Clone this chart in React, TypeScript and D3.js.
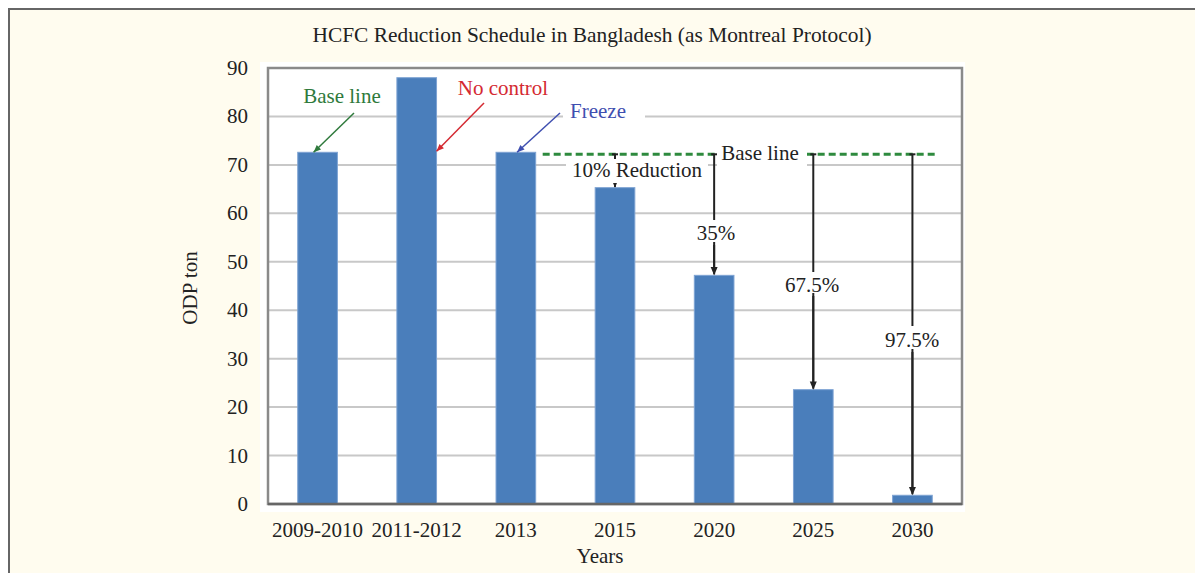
import React from "react";
import * as d3 from "d3";

const categories = ["2009-2010", "2011-2012", "2013", "2015", "2020", "2025", "2030"];
const values = [72.6, 88, 72.6, 65.3, 47.2, 23.6, 1.8];
const yTicks = [0, 10, 20, 30, 40, 50, 60, 70, 80, 90];
const baselineValue = 72.6;
const reductionLabels = ["10% Reduction", "35%", "67.5%", "97.5%"];
const reductionCats = ["2015", "2020", "2025", "2030"];

const W = 1195;
const H = 565;
const SERIF = "'Liberation Serif', 'Times New Roman', serif";
const FS = 21;

export default function App() {
  const left = 268, right = 962, top = 68, bottom = 504;
  const x = d3.scaleBand<string>().domain(categories).range([left, right]).paddingInner(0.6).paddingOuter(0.3);
  const y = d3.scaleLinear().domain([0, 90]).range([bottom, top]);
  const cx = (c: string) => (x(c) as number) + x.bandwidth() / 2;
  const yb = y(baselineValue) + 2;

  const redBoxes = [
    { box: [566, 159, 708, 183], tx: 637, ty: 177 },
    { box: [690, 220, 782, 245], tx: 716, ty: 240 },
    { box: [750, 272, 875, 296], tx: 812, ty: 292 },
    { box: [833, 326, 960, 352], tx: 912, ty: 347 },
  ];

  const arrowHead = (x2: number, y2: number, x1: number, y1: number, color: string, size = 8) => {
    const ang = Math.atan2(y2 - y1, x2 - x1);
    const a1 = ang + Math.PI - 0.4, a2 = ang + Math.PI + 0.4;
    const p = [
      [x2, y2],
      [x2 + size * Math.cos(a1), y2 + size * Math.sin(a1)],
      [x2 + size * Math.cos(a2), y2 + size * Math.sin(a2)],
    ];
    return <polygon points={p.map((q) => q.join(",")).join(" ")} fill={color} />;
  };

  // target: offset from bar center (fraction of bandwidth) and value
  const callouts = [
    { text: "Base line", color: "#2f7a3c", tx: 342, ty: 103, from: [354, 113], cat: "2009-2010", dx: -0.1, v: 72.6 },
    { text: "No control", color: "#d42a32", tx: 503, ty: 95, from: [484, 103], cat: "2011-2012", dx: 0.5, v: 72.8 },
    { text: "Freeze", color: "#3f4fb0", tx: 598, ty: 118, from: [560, 113], cat: "2013", dx: 0.03, v: 72.6 },
  ];

  return (
    <svg width={W} height={H} style={{ display: "block" }}>
      <g transform="translate(-8,-8)">
        <rect x={9} y={9} width={1400} height={800} fill="#fffcef" stroke="#666" strokeWidth={2} />
        <text x={592} y={42} textAnchor="middle" fontFamily={SERIF} fontSize={21.4} fill="#222">
          HCFC Reduction Schedule in Bangladesh (as Montreal Protocol)
        </text>
        <rect x={260} y={62} width={705} height={450} fill="#fff" />
        {yTicks.map((t) => (
          <g key={t}>
            <line x1={left} x2={right} y1={y(t)} y2={y(t)} stroke="#c8c8c8" strokeWidth={2} />
            <text x={248} y={y(t) + 7} textAnchor="end" fontFamily={SERIF} fontSize={FS} fill="#222">
              {t}
            </text>
          </g>
        ))}
        <rect x={left} y={top} width={right - left} height={bottom - top} fill="none" stroke="#8a8a8a" strokeWidth={2.5} />
        {categories.map((c, i) => (
          <g key={c}>
            <rect x={x(c)} y={y(values[i])} width={x.bandwidth()} height={bottom - y(values[i])} fill="#4a7ebb" stroke="#7ea3d3" strokeWidth={1} />
            <text x={cx(c)} y={537} textAnchor="middle" fontFamily={SERIF} fontSize={FS} fill="#222">
              {c}
            </text>
          </g>
        ))}
        <line x1={left} x2={right} y1={bottom} y2={bottom} stroke="#666" strokeWidth={2.5} />
        <text x={600} y={563} textAnchor="middle" fontFamily={SERIF} fontSize={FS} fill="#222">Years</text>
        <text transform={`translate(197,288) rotate(-90)`} textAnchor="middle" fontFamily={SERIF} fontSize={FS} fill="#222">
          ODP ton
        </text>

        {callouts.map((c) => {
          const x2 = cx(c.cat) + c.dx * x.bandwidth(), y2 = y(c.v);
          return (
            <g key={c.text}>
              {c.text === "Freeze" && <rect x={563} y={98} width={82} height={26} fill="#fff" />}
              <line x1={c.from[0]} y1={c.from[1]} x2={x2} y2={y2} stroke={c.color} strokeWidth={1.5} />
              {arrowHead(x2, y2, c.from[0], c.from[1], c.color)}
              <text x={c.tx} y={c.ty} textAnchor="middle" fontFamily={SERIF} fontSize={FS} fill={c.color}>
                {c.text}
              </text>
            </g>
          );
        })}

        <line x1={(x("2013") as number) + x.bandwidth() + 7} x2={938} y1={yb} y2={yb} stroke="#2e8a3e" strokeWidth={3} strokeDasharray="7,4" />

        {reductionCats.map((c) => {
          const vx = cx(c);
          const vy = y(values[categories.indexOf(c)]);
          return (
            <g key={c}>
              <line x1={vx} x2={vx} y1={yb} y2={vy - 1} stroke="#222" strokeWidth={2} />
              <line x1={vx - 3} x2={vx + 3} y1={yb} y2={yb} stroke="#222" strokeWidth={2} />
              {arrowHead(vx, vy, vx, yb, "#222", 9)}
            </g>
          );
        })}
        {reductionLabels.map((l, i) => {
          const b = redBoxes[i];
          return (
            <g key={l}>
              <rect x={b.box[0]} y={b.box[1]} width={b.box[2] - b.box[0]} height={b.box[3] - b.box[1]} fill="#fff" />
              <text x={b.tx} y={b.ty} textAnchor="middle" fontFamily={SERIF} fontSize={FS} fill="#222">
                {l}
              </text>
            </g>
          );
        })}
        {reductionCats.slice(1).map((c, i) => {
          const vx = cx(c);
          const vy = y(values[categories.indexOf(c)]);
          const b = redBoxes[i + 1];
          return <line key={c} x1={vx} x2={vx} y1={b.box[3] - 3} y2={vy - 6} stroke="#222" strokeWidth={2} />;
        })}
        <rect x={717} y={140} width={90} height={27} fill="#fff" />
        <text x={760} y={160} textAnchor="middle" fontFamily={SERIF} fontSize={FS} fill="#222">Base line</text>
        <line x1={cx("2015")} x2={cx("2015")} y1={183} y2={y(values[3]) - 1} stroke="#222" strokeWidth={2} />
      </g>
    </svg>
  );
}
